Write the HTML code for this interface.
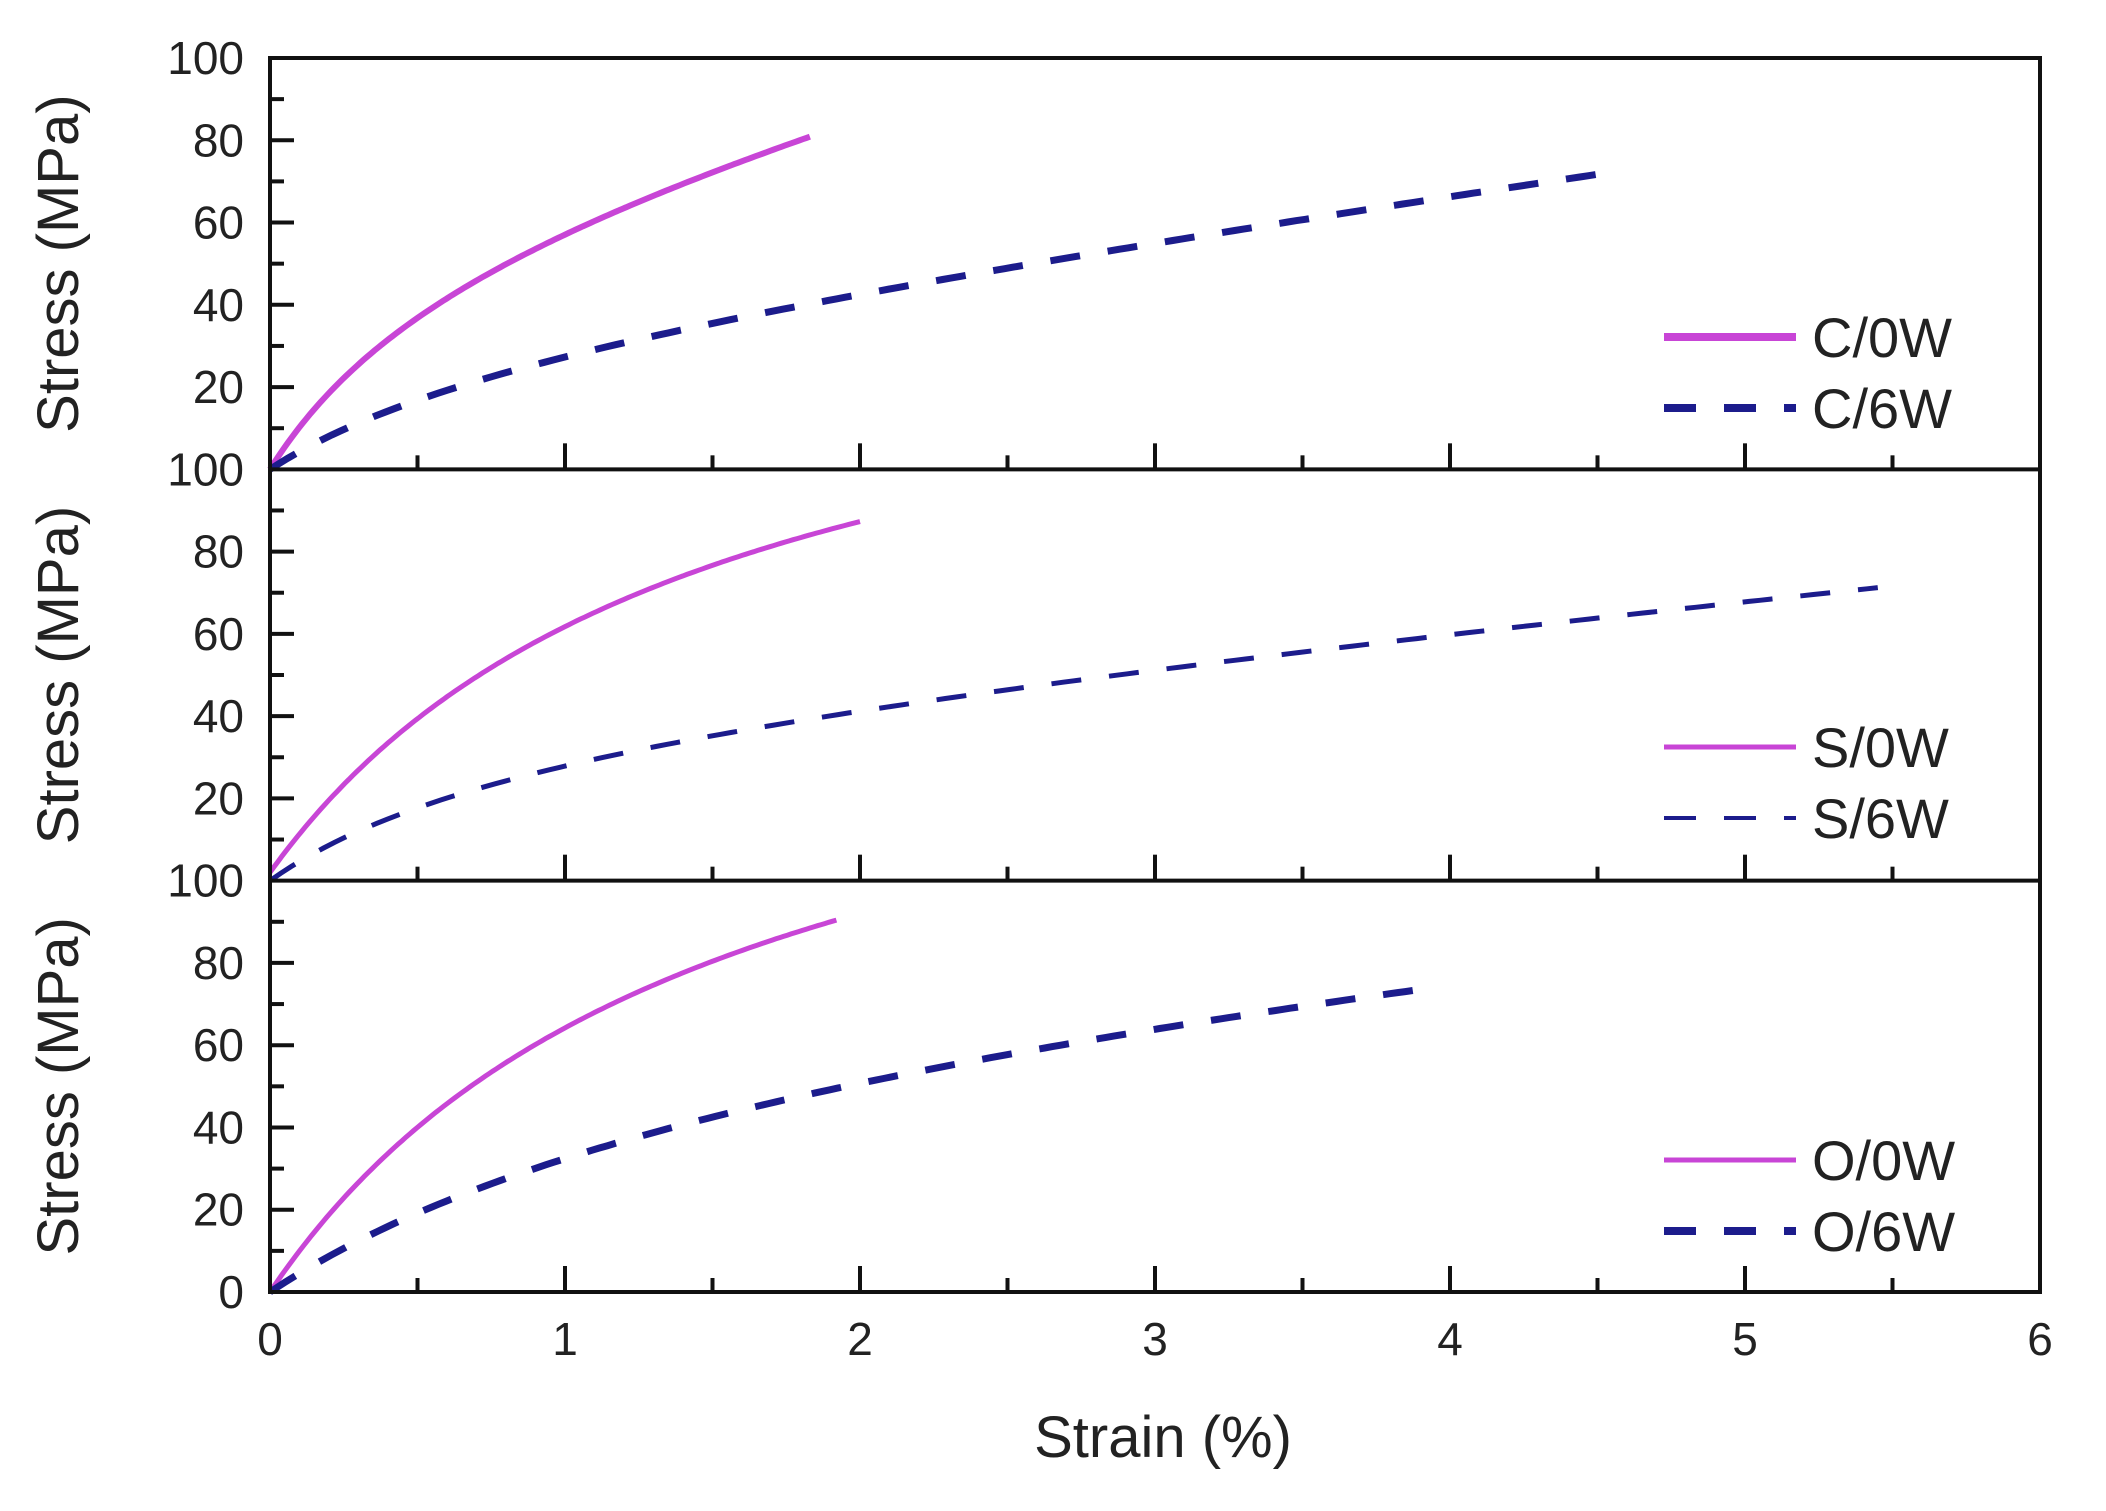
<!DOCTYPE html>
<html><head><meta charset="utf-8"><style>
html,body{margin:0;padding:0;background:#fff;}
svg{display:block;}
text{font-family:"Liberation Sans",Arial,sans-serif;fill:#222;}
</style></head><body>
<svg id="s" width="2106" height="1511" viewBox="0 0 2106 1511" xmlns="http://www.w3.org/2000/svg">
<g id="g"></g>
<text x="1163" y="1457" font-size="58" text-anchor="middle">Strain (%)</text>
</svg>
<script>
(function(){
var L=270,R=2040,T=58,B=1292,H=(B-T)/3,U=(R-L)/6;
var g=document.getElementById('g'),out='';
function X(v){return L+v*U;}
var panels=[
 {s:[{p:[[0,0],[0.25,22],[0.5,37],[0.75,48],[1,57],[1.5,72],[1.83,81]],t:'s',w:6,c0:0},
     {p:[[0,0],[0.25,9],[0.5,17],[1,28],[2,42],[3,55],[4,66],[4.5,72]],t:'d',w:7,c0:0}],
  lg:['C/0W','C/6W'],ly:[337,408],lw:[8,8]},
 {s:[{p:[[0,2],[0.25,23],[0.5,39],[0.75,52],[1,62],[1.5,77],[2,87]],t:'s',w:5,c0:2},
     {p:[[0,0],[0.25,10],[0.5,18],[1,28],[2,41],[3,51],[4,60],[5,68],[5.45,71]],t:'d',w:5,c0:0}],
  lg:['S/0W','S/6W'],ly:[747,818],lw:[5,4]},
 {s:[{p:[[0,0],[0.25,22],[0.5,40],[0.75,54],[1,65],[1.5,79],[1.92,91]],t:'s',w:5,c0:0},
     {p:[[0,0],[0.25,10],[0.5,19],[1,33],[2,51],[3,63],[3.9,74]],t:'d',w:7,c0:0}],
  lg:['O/0W','O/6W'],ly:[1160,1231],lw:[5,8]}
];
function fit(pts,c0){
 var best=null;
 for(var b=0;b<=6;b+=0.01){
  var s11=0,s12=0,s22=0,t1=0,t2=0;
  for(var i=0;i<pts.length;i++){var x=pts[i][0],y=pts[i][1]-c0;var f1=x/(1+b*x),f2=x;
   s11+=f1*f1;s12+=f1*f2;s22+=f2*f2;t1+=f1*y;t2+=f2*y;}
  var det=s11*s22-s12*s12;if(Math.abs(det)<1e-9)continue;
  var a=(t1*s22-t2*s12)/det,r=(s11*t2-s12*t1)/det;
  if(r<0){a=t1/s11;r=0;}
  var e=0;for(var i2=0;i2<pts.length;i2++){var x2=pts[i2][0];var d=a*x2/(1+b*x2)+r*x2+c0-pts[i2][1];e+=d*d;}
  if(!best||e<best.e)best={a:a,b:b,r:r,e:e};
 }
 return function(x){return best.a*x/(1+best.b*x)+best.r*x+c0;};
}
for(var i=0;i<3;i++){
 var P=panels[i];
 var pt=T+i*H,pb=pt+H;
 var Y=function(v){return pb-v/100*H;};
 for(var v=10;v<100;v+=10){var len=(v%20==0)?24:14;out+='<line x1="'+L+'" y1="'+Y(v)+'" x2="'+(L+len)+'" y2="'+Y(v)+'" stroke="#111" stroke-width="4"/>';}
 var labs=[20,40,60,80];
 for(var k=0;k<labs.length;k++)out+='<text x="244" y="'+(Y(labs[k])+16)+'" font-size="46" text-anchor="end">'+labs[k]+'</text>';
 out+='<text x="244" y="'+(pt+16)+'" font-size="46" text-anchor="end">100</text>';
 for(var t=0.5;t<6;t+=0.5){var len2=(Math.abs(t-Math.round(t))<0.01)?26:14;out+='<line x1="'+X(t)+'" y1="'+pb+'" x2="'+X(t)+'" y2="'+(pb-len2)+'" stroke="#111" stroke-width="4"/>';}
 var cy=(pt+pb)/2;
 out+='<text x="0" y="0" font-size="58" text-anchor="middle" transform="translate(78,'+cy+') rotate(-90)">Stress (MPa)</text>';
 for(var j=0;j<2;j++){
  var c=P.s[j];
  var f=fit(c.p,c.c0);
  var xe=c.p[c.p.length-1][0],d='';
  for(var n=0;n<=150;n++){var x=xe*n/150;d+=(n?'L':'M')+X(x).toFixed(1)+','+Y(f(x)).toFixed(1);}
  if(c.t=='s')out+='<path d="'+d+'" fill="none" stroke="#c845d6" stroke-width="'+c.w+'"/>';
  else out+='<path d="'+d+'" fill="none" stroke="#1c1c8c" stroke-width="'+c.w+'" stroke-dasharray="30 28"/>';
 }
 var ly=P.ly;
 out+='<line x1="1664" y1="'+ly[0]+'" x2="1796" y2="'+ly[0]+'" stroke="#c845d6" stroke-width="'+P.lw[0]+'"/>';
 out+='<line x1="1664" y1="'+ly[1]+'" x2="1796" y2="'+ly[1]+'" stroke="#1c1c8c" stroke-width="'+P.lw[1]+'" stroke-dasharray="32 28"/>';
 out+='<text x="1812" y="'+(ly[0]+20)+'" font-size="56">'+P.lg[0]+'</text>';
 out+='<text x="1812" y="'+(ly[1]+20)+'" font-size="56">'+P.lg[1]+'</text>';
 out+='<line x1="'+L+'" y1="'+pb+'" x2="'+R+'" y2="'+pb+'" stroke="#111" stroke-width="4"/>';
}
out+='<text x="244" y="'+(B+16)+'" font-size="46" text-anchor="end">0</text>';
for(var t2=0;t2<=6;t2++)out+='<text x="'+X(t2)+'" y="1355" font-size="46" text-anchor="middle">'+t2+'</text>';
out+='<rect x="'+L+'" y="'+T+'" width="'+(R-L)+'" height="'+(B-T)+'" fill="none" stroke="#111" stroke-width="4"/>';
g.innerHTML=out;
})();
</script>
</body></html>
